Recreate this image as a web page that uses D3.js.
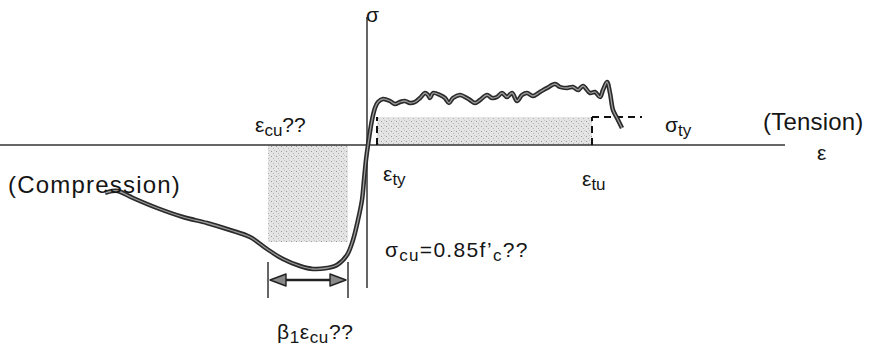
<!DOCTYPE html>
<html>
<head>
<meta charset="utf-8">
<script src="https://cdn.jsdelivr.net/npm/d3@7"></script>
<style>
  body { margin: 0; background: #fff; }
  svg text { font-family: "Liberation Sans", Arial, sans-serif; fill: #151515; }
</style>
</head>
<body>
<div id="chart"></div>
<script>
// strain (eps) / stress (sig) in arbitrary sketch units
var compEps = [-13.1, -12.75, -12.45, -11.7, -10.5, -9.2, -8.0, -6.85, -5.85, -5.0, -4.2, -3.35, -2.7, -2.0, -1.5, -1.0, -0.7, -0.45, -0.25, -0.15, -0.05, 0.05];
var compSig = [-2.4, -2.3, -2.3, -2.65, -3.15, -3.6, -3.9, -4.25, -4.6, -5.2, -5.7, -6.05, -6.2, -6.15, -6.0, -5.5, -4.75, -3.75, -2.75, -1.75, -0.75, 0];
var tensEps = [0.25, 0.4, 0.55, 0.8, 1.15, 1.4, 1.65, 1.9, 2.15, 2.4, 2.65, 2.9, 3.05, 3.15, 3.3, 3.65, 3.9, 4.1, 4.3, 4.65, 4.9, 5.15, 5.4, 5.65, 6.0, 6.25, 6.5, 6.75, 7.0, 7.25, 7.5, 7.75, 8.0, 8.3, 8.65, 9.0, 9.4, 9.65, 10.0, 10.3, 10.55, 10.8, 11.15, 11.4, 11.65, 11.8, 12.0, 12.15, 12.3, 12.5, 12.75];
var tensSig = [1.25, 1.85, 2.15, 2.3, 2.2, 2.05, 2.15, 2.2, 2.1, 2.15, 2.35, 2.6, 2.5, 2.35, 2.6, 2.5, 2.35, 2.1, 2.35, 2.5, 2.4, 2.25, 2.1, 2.25, 2.5, 2.35, 2.4, 2.6, 2.4, 2.6, 2.2, 2.5, 2.6, 2.45, 2.65, 2.85, 3.05, 2.9, 2.85, 2.9, 2.75, 2.95, 2.6, 2.65, 2.4, 2.75, 3.15, 2.6, 1.75, 1.35, 0.85];

var epsTy = 0.5, epsTu = 11.25, sigTy = 1.4, sigDashEnd = 13.75;
var blockEps = [-4.95, -0.95], blockSig = -4.85;
var arrowSig = -6.75, arrowTick = [-5.85, -7.65];
var axisEps = [-18.35, 20.9], axisSig = [6.4, -7.15];

// labels: [text parts], anchor eps, anchor sig, size
var labels = [
  {parts: [["σ", 0]], e: -0.05, s: 6.15, size: 21},
  {parts: [["ε", 0], ["cu", 1], ["??", 0]], e: -5.6, s: 0.65, size: 21},
  {parts: [["(Tension)", 0]], e: 19.8, s: 0.75, size: 24, ls: 0.2},
  {parts: [["ε", 0]], e: 22.5, s: -0.75, size: 21},
  {parts: [["σ", 0], ["ty", 1]], e: 14.9, s: 0.65, size: 21},
  {parts: [["ε", 0], ["ty", 1]], e: 0.8, s: -1.8, size: 21},
  {parts: [["ε", 0], ["tu", 1]], e: 10.75, s: -2.05, size: 21},
  {parts: [["(Compression)", 0]], e: -17.95, s: -2.4, size: 24, ls: 1.2},
  {parts: [["σ", 0], ["cu", 1], ["=0.85f’", 0], ["c", 1], ["??", 0]], e: 0.9, s: -5.6, size: 21, ls: 1.3},
  {parts: [["β", 0], ["1", 1], ["ε", 0], ["cu", 1], ["??", 0]], e: -4.5, s: -9.7, size: 21, ls: 0.6}
];

var width = 872, height = 351;
var x = d3.scaleLinear().domain([-18.35, 25.25]).range([0, width]);
var y = d3.scaleLinear().domain([7.25, -10.3]).range([0, height]);

var svg = d3.select("#chart").append("svg")
  .attr("width", width).attr("height", height);

var defs = svg.append("defs");
var pat = defs.append("pattern").attr("id", "stipple")
  .attr("width", 5).attr("height", 5).attr("patternUnits", "userSpaceOnUse");
pat.append("rect").attr("width", 5).attr("height", 5).attr("fill", "#e4e4e4");
pat.append("rect").attr("x", 1).attr("y", 1).attr("width", 1).attr("height", 1).attr("fill", "#9a9a9a");
pat.append("rect").attr("x", 3).attr("y", 3).attr("width", 1).attr("height", 1).attr("fill", "#b5b5b5");
pat.append("rect").attr("x", 4).attr("y", 0).attr("width", 1).attr("height", 1).attr("fill", "#c8c8c8");

// shaded blocks
svg.append("rect")
  .attr("x", x(epsTy)).attr("y", y(sigTy))
  .attr("width", x(epsTu) - x(epsTy)).attr("height", y(0) - y(sigTy))
  .attr("fill", "url(#stipple)");
svg.append("rect")
  .attr("x", x(blockEps[0])).attr("y", y(0))
  .attr("width", x(blockEps[1]) - x(blockEps[0])).attr("height", y(blockSig) - y(0))
  .attr("fill", "url(#stipple)");

// axes
svg.append("line")
  .attr("x1", x(axisEps[0])).attr("x2", x(axisEps[1]))
  .attr("y1", y(0)).attr("y2", y(0))
  .attr("stroke", "#333").attr("stroke-width", 1.5);
svg.append("line")
  .attr("x1", x(0)).attr("x2", x(0))
  .attr("y1", y(axisSig[0])).attr("y2", y(axisSig[1]))
  .attr("stroke", "#333").attr("stroke-width", 1.5);

// dashed yield lines
var dash = [
  [[epsTy, 0], [epsTy, sigTy]],
  [[epsTu, 0], [epsTu, sigTy]],
  [[epsTu, sigTy], [sigDashEnd, sigTy]]
];
svg.selectAll(".dash").data(dash).enter().append("line")
  .attr("x1", d => x(d[0][0])).attr("y1", d => y(d[0][1]))
  .attr("x2", d => x(d[1][0])).attr("y2", d => y(d[1][1]))
  .attr("stroke", "#111").attr("stroke-width", 2).attr("stroke-dasharray", "7,5");

// stress-strain curve
var pts = compEps.map((e, i) => [e, compSig[i]])
  .concat(tensEps.map((e, i) => [e, tensSig[i]]));
var line = d3.line().x(d => x(d[0])).y(d => y(d[1])).curve(d3.curveCatmullRom.alpha(0.5));
svg.append("path").attr("d", line(pts)).attr("fill", "none")
  .attr("stroke", "#2a2a2a").attr("stroke-width", 4.5).attr("stroke-linejoin", "round");
svg.append("path").attr("d", line(pts)).attr("fill", "none")
  .attr("stroke", "#9c9c9c").attr("stroke-width", 1.3).attr("stroke-linejoin", "round");

// beta1 * eps_cu dimension
blockEps.forEach(function (e) {
  svg.append("line")
    .attr("x1", x(e)).attr("x2", x(e))
    .attr("y1", y(arrowTick[0])).attr("y2", y(arrowTick[1]))
    .attr("stroke", "#333").attr("stroke-width", 1.5);
});
var ax0 = x(blockEps[0]) + 2, ax1 = x(blockEps[1]) - 2, ay = y(arrowSig);
svg.append("line")
  .attr("x1", ax0 + 10).attr("x2", ax1 - 10)
  .attr("y1", ay).attr("y2", ay)
  .attr("stroke", "#222").attr("stroke-width", 2.4);
[[ax0, 1], [ax1, -1]].forEach(function (h) {
  var tip = h[0], dir = h[1];
  svg.append("path")
    .attr("d", "M" + tip + "," + ay + "L" + (tip + dir * 16) + "," + (ay - 6) +
      "L" + (tip + dir * 16) + "," + (ay + 6) + "Z")
    .attr("fill", "#8a8a8a").attr("stroke", "#222").attr("stroke-width", 1.4)
    .attr("stroke-linejoin", "round");
});

// labels
labels.forEach(function (l) {
  var t = svg.append("text")
    .attr("x", x(l.e)).attr("y", y(l.s))
    .attr("font-size", l.size)
    .attr("letter-spacing", l.ls || 0);
  var prevSub = 0;
  l.parts.forEach(function (p) {
    var shift = (p[1] - prevSub) * 4;
    t.append("tspan").attr("dy", shift)
      .attr("font-size", p[1] ? 17 : l.size)
      .text(p[0]);
    prevSub = p[1];
  });
});
</script>
</body>
</html>
